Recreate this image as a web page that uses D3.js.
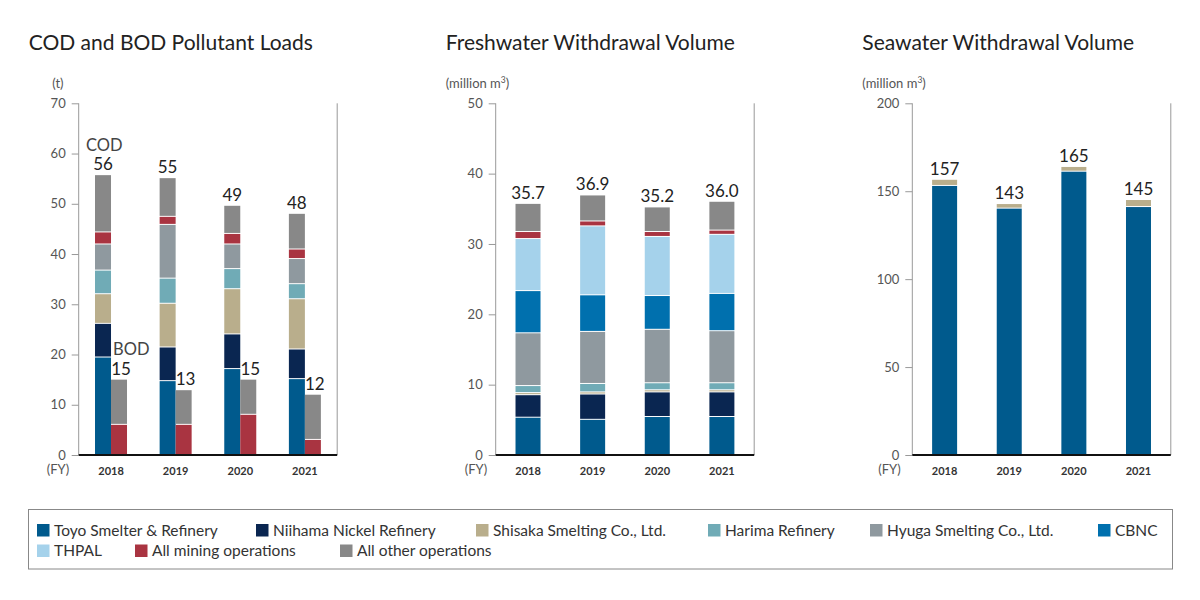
<!DOCTYPE html>
<html>
<head>
<meta charset="utf-8">
<script src="https://cdn.jsdelivr.net/npm/d3@7"></script>
<style>
  body { margin: 0; background: #fff; }
  svg { font-family: Lato, "Open Sans", sans-serif; }
  .tick text { fill: #555; }
</style>
</head>
<body>
<div id="chart"></div>
<script>
// Years and companies
var years = ["2018", "2019", "2020", "2021"];
var names = ["Toyo Smelter & Refinery", "Niihama Nickel Refinery", "Shisaka Smelting Co., Ltd.",
    "Harima Refinery", "Hyuga Smelting Co., Ltd.", "CBNC", "THPAL",
    "All mining operations", "All other operations"];
var colors = ["#005a8d", "#0a2651", "#b9ae8c", "#70abb6", "#8f999f", "#0070ae", "#a5d2eb", "#a93441", "#888888"];

// COD (t)
var codToyo = [19.4, 14.7, 17.1, 15.1];
var codNiihama = [6.7, 6.7, 6.9, 5.9];
var codShisaka = [5.9, 8.7, 9.0, 10.0];
var codHarima = [4.7, 5.0, 4.0, 3.0];
var codHyuga = [5.2, 10.7, 4.9, 5.0];
var codMining = [2.4, 1.6, 2.1, 1.9];
var codOther = [11.4, 7.7, 5.6, 7.1];
var codTotals = ["56", "55", "49", "48"];

// BOD (t)
var bodMining = [6.0, 6.0, 8.0, 3.0];
var bodOther = [9.0, 6.9, 7.0, 9.0];
var bodTotals = ["15", "13", "15", "12"];

// Freshwater (million m3)
var fwToyo = [5.3, 5.0, 5.4, 5.4];
var fwNiihama = [3.2, 3.6, 3.5, 3.5];
var fwShisaka = [0.3, 0.3, 0.3, 0.3];
var fwHarima = [1.0, 1.2, 1.0, 1.0];
var fwHyuga = [7.5, 7.4, 7.6, 7.4];
var fwCbnc = [6.0, 5.2, 4.8, 5.3];
var fwThpal = [7.4, 9.8, 8.4, 8.4];
var fwMining = [1.0, 0.7, 0.7, 0.6];
var fwOther = [4.0, 3.7, 3.5, 4.1];
var fwTotals = ["35.7", "36.9", "35.2", "36.0"];

// Seawater (million m3)
var swToyo = [153.0, 140.1, 161.1, 141.0];
var swShisaka = [3.5, 2.6, 2.7, 4.0];
var swTotals = ["157", "143", "165", "145"];

// Tick labels
var codTicks = [0, 10, 20, 30, 40, 50, 60, 70];
var fwTicks = [0, 10, 20, 30, 40, 50];
var swTicks = [0, 50, 100, 150, 200];

var color = d3.scaleOrdinal().domain(names).range(colors);

var svg = d3.select("#chart").append("svg")
    .attr("width", 1200)
    .attr("height", 600);

var top0 = 103.3, base = 455, panelW = 258.5;

// build rows {year, name: value} for stacking
function rows(keys, arrays) {
    return years.map(function (yr, i) {
        var r = { year: yr };
        keys.forEach(function (k, j) { r[k] = arrays[j][i]; });
        return r;
    });
}

function drawPanel(p) {
    var g = svg.append("g").attr("transform", "translate(" + p.x0 + ",0)");

    var x = d3.scaleBand().domain(years).range([0, panelW]);
    var y = d3.scaleLinear().domain([0, p.max]).range([base, top0]);

    // title
    g.append("text")
        .attr("x", -50).attr("y", 50)
        .style("font-size", "21px").style("fill", "#222")
        .text(p.title);

    // unit
    var u = g.append("text")
        .attr("x", p.unitX).attr("y", 88)
        .style("font-size", "13px").style("fill", "#555")
        .text(p.unit);
    if (p.sup) {
        u.append("tspan").attr("dy", -5).style("font-size", "8.5px").text(p.sup);
        u.append("tspan").attr("dy", 5).text(")");
    }

    // (FY)
    g.append("text")
        .attr("x", p.fyX).attr("y", 474)
        .style("font-size", "13px").style("fill", "#555")
        .text("(FY)");

    // y axis
    var yAxis = g.append("g")
        .call(d3.axisLeft(y).tickValues(p.ticks).tickSize(7).tickPadding(6));
    yAxis.select(".domain").remove();
    yAxis.selectAll(".tick line").attr("stroke", "#999");
    yAxis.selectAll(".tick text").style("font-size", "13px").style("font-family", "Lato, sans-serif");

    g.append("line")
        .attr("x1", 0).attr("x2", 0).attr("y1", top0).attr("y2", base)
        .attr("stroke", "#999");
    g.append("line")
        .attr("x1", panelW).attr("x2", panelW).attr("y1", top0).attr("y2", base)
        .attr("stroke", "#999");

    // bars
    p.groups.forEach(function (grp) {
        var stack = d3.stack().keys(grp.keys)(grp.data);
        stack.forEach(function (layer, li) {
            g.selectAll(null)
                .data(layer)
                .enter()
                .append("rect")
                .attr("x", function (d) { return x(d.data.year) + x.bandwidth() / 2 + grp.offset; })
                .attr("width", grp.width)
                .attr("y", function (d) { return y(d[1]); })
                .attr("height", function (d) {
                    return Math.max(0, y(d[0]) - y(d[1]) - (li > 0 ? 1 : 0));
                })
                .style("fill", color(layer.key));
        });

        // totals
        var last = stack[stack.length - 1];
        g.selectAll(null)
            .data(last)
            .enter()
            .append("text")
            .attr("x", function (d) { return x(d.data.year) + x.bandwidth() / 2 + grp.offset + grp.width / 2 + (grp.labelDx > 0 ? 2 : 0); })
            .attr("y", function (d) { return y(d[1]) - 5; })
            .attr("text-anchor", "middle")
            .style("font-size", "17px").style("fill", "#222")
            .text(function (d, i) { return grp.totals[i]; });

        // series name above the first group (COD / BOD)
        if (grp.label) {
            var d0 = last[0];
            g.append("text")
                .attr("x", x(years[0]) + x.bandwidth() / 2 + grp.offset + grp.labelDx)
                .attr("y", y(d0[1]) - 24.5)
                .style("font-size", "16.5px").style("fill", "#444")
                .text(grp.label);
        }
    });

    // x axis
    var xAxis = g.append("g")
        .attr("transform", "translate(0," + base + ")")
        .call(d3.axisBottom(x).tickSize(0).tickPadding(12));
    xAxis.select(".domain").remove();
    xAxis.selectAll(".tick text")
        .style("font-size", "11px").style("font-weight", "bold")
        .style("fill", "#333").style("font-family", "Lato, sans-serif");

    g.append("line")
        .attr("x1", 0).attr("x2", panelW).attr("y1", base).attr("y2", base)
        .attr("stroke", "#111").attr("stroke-width", 2);
}

var codKeys = names.slice(0, 5).concat(names.slice(7));
var bodKeys = names.slice(7);

drawPanel({
    x0: 78.7, title: "COD and BOD Pollutant Loads", unit: "(t)", unitX: -26.5, fyX: -32,
    max: 70, ticks: codTicks,
    groups: [
        { keys: codKeys, data: rows(codKeys, [codToyo, codNiihama, codShisaka, codHarima, codHyuga, codMining, codOther]),
          offset: -16, width: 16, totals: codTotals, label: "COD", labelDx: -9 },
        { keys: bodKeys, data: rows(bodKeys, [bodMining, bodOther]),
          offset: 0, width: 16, totals: bodTotals, label: "BOD", labelDx: 2 }
    ]
});

drawPanel({
    x0: 495.7, title: "Freshwater Withdrawal Volume", unit: "(million m", sup: "3", unitX: -50, fyX: -31,
    max: 50, ticks: fwTicks,
    groups: [
        { keys: names, data: rows(names, [fwToyo, fwNiihama, fwShisaka, fwHarima, fwHyuga, fwCbnc, fwThpal, fwMining, fwOther]),
          offset: -12.5, width: 25, totals: fwTotals }
    ]
});

var swKeys = [names[0], names[2]];
drawPanel({
    x0: 912.3, title: "Seawater Withdrawal Volume", unit: "(million m", sup: "3", unitX: -50, fyX: -34,
    max: 200, ticks: swTicks,
    groups: [
        { keys: swKeys, data: rows(swKeys, [swToyo, swShisaka]),
          offset: -12.5, width: 25, totals: swTotals }
    ]
});

// Legend
var legend = svg.append("g");
legend.append("rect")
    .attr("x", 28.5).attr("y", 509.5).attr("width", 1144).attr("height", 59.5)
    .attr("fill", "none").attr("stroke", "#888");

var legendX = [37, 256, 476, 708, 870, 1098, 37, 135, 340];
var legendRow = [0, 0, 0, 0, 0, 0, 1, 1, 1];

legend.selectAll("mydots")
    .data(names)
    .enter()
    .append("rect")
    .attr("x", function (d, i) { return legendX[i]; })
    .attr("y", function (d, i) { return 524 + legendRow[i] * 20.5; })
    .attr("width", 12.5).attr("height", 12.5)
    .style("fill", function (d) { return color(d); });

legend.selectAll("mylabels")
    .data(names)
    .enter()
    .append("text")
    .attr("x", function (d, i) { return legendX[i] + 17; })
    .attr("y", function (d, i) { return 535.5 + legendRow[i] * 20.5; })
    .style("font-size", "15.5px").style("fill", "#333")
    .text(function (d) { return d; });
</script>
</body>
</html>
